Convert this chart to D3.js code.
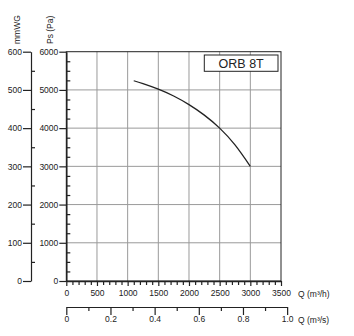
<!DOCTYPE html>
<html><head><meta charset="utf-8">
<script src="https://cdn.jsdelivr.net/npm/d3@7"></script>
<style>body{margin:0;background:#fff}svg{display:block}text{font-family:"Liberation Sans",Arial,sans-serif;fill:#222}</style>
</head><body>
<svg id="c" width="354" height="336"></svg>
<script>
const flowQ = [1100, 1250, 1500, 1750, 2000, 2250, 2500, 2750, 3000];
const pressurePa = [5240, 5165, 5020, 4840, 4615, 4340, 4000, 3560, 3000];
const qhTicks = [0, 500, 1000, 1500, 2000, 2500, 3000, 3500];
const qsTicks = [0, 0.2, 0.4, 0.6, 0.8, 1.0];
const paTicks = [0, 1000, 2000, 3000, 4000, 5000, 6000];
const mmTicks = [0, 100, 200, 300, 400, 500, 600];
const modelName = "ORB 8T";

const svg = d3.select("#c");
const L = 66.3, R = 281, T = 51.7, B = 281;
const x = d3.scaleLinear().domain([0, 3500]).range([L, R]);
const y = d3.scaleLinear().domain([0, 6000]).range([B, T]);
const ymm = d3.scaleLinear().domain([0, 600]).range([B, T]);
const xs = d3.scaleLinear().domain([0, 1]).range([L, x(3600)]);
const fs = "8.5px";

// grid
svg.append("g").selectAll("line").data(qhTicks.slice(1, -1)).join("line")
  .attr("x1", d => x(d)).attr("x2", d => x(d)).attr("y1", T).attr("y2", B)
  .attr("stroke", "#9a9a9a").attr("stroke-width", 1);
svg.append("g").selectAll("line").data(paTicks.slice(1, -1)).join("line")
  .attr("x1", L).attr("x2", R).attr("y1", d => y(d)).attr("y2", d => y(d))
  .attr("stroke", "#9a9a9a").attr("stroke-width", 1);
// frame
svg.append("rect").attr("x", L).attr("y", T).attr("width", R - L).attr("height", B - T)
  .attr("fill", "none").attr("stroke", "#222").attr("stroke-width", 1);

function style(g) {
  g.selectAll("path,line").attr("stroke", "#222").attr("stroke-width", 1.2);
  g.selectAll("text").attr("font-size", fs).attr("fill", "#222").attr("font-family", null);
}

// Ps axis
svg.append("g").attr("transform", `translate(${L},0)`)
  .call(d3.axisLeft(y).tickValues(paTicks).tickSize(7).tickSizeOuter(0).tickPadding(1).tickFormat(d3.format("d")))
  .call(style).call(g => g.select(".domain").attr("stroke-width", 1.5));
svg.append("g").attr("transform", `translate(${L},0)`)
  .call(d3.axisRight(y).tickValues(d3.range(250, 6000, 250).filter(v => v % 1000)).tickSize(4).tickFormat(""))
  .call(style).call(g => g.select(".domain").remove());

// mmWG axis
const mx = 31;
svg.append("g").attr("transform", `translate(${mx},0)`)
  .call(d3.axisLeft(ymm).tickValues(mmTicks).tickSize(8).tickSizeOuter(0).tickPadding(1).tickFormat(d3.format("d")))
  .call(style);
svg.append("g").attr("transform", `translate(${mx},0)`)
  .call(d3.axisRight(ymm).tickValues(d3.range(50, 600, 100)).tickSize(4).tickFormat(""))
  .call(style).call(g => g.select(".domain").remove());

// Q m3/h axis
svg.append("g").attr("transform", `translate(0,${B})`)
  .call(d3.axisBottom(x).tickValues(qhTicks).tickSize(5).tickSizeOuter(0).tickPadding(4).tickFormat(d3.format("d")))
  .call(style).call(g => g.select(".domain").attr("stroke-width", 1.5));
svg.append("g").attr("transform", `translate(0,${B})`)
  .call(d3.axisBottom(x).tickValues(d3.range(100, 3500, 100).filter(v => v % 500)).tickSize(4).tickFormat(""))
  .call(style).call(g => g.select(".domain").remove());

// Q m3/s axis
const sy = 307;
svg.append("g").attr("transform", `translate(0,${sy})`)
  .call(d3.axisBottom(xs).tickValues(qsTicks).tickSize(8).tickSizeOuter(0).tickPadding(1).tickFormat(d3.format(".1f")))
  .call(style)
  .call(g => g.selectAll(".tick text").filter(d => d === 0).text("0"));
svg.append("g").attr("transform", `translate(0,${sy})`)
  .call(d3.axisBottom(xs).tickValues(d3.range(0.1, 1, 0.2)).tickSize(4).tickFormat(""))
  .call(style).call(g => g.select(".domain").remove());

// unit labels
svg.append("text").attr("x", 298).attr("y", 296.5).attr("font-size", fs).text("Q (m³/h)");
svg.append("text").attr("x", 298).attr("y", 323).attr("font-size", fs).text("Q (m³/s)");
svg.append("text").attr("transform", "translate(20,44) rotate(-90)").attr("font-size", fs).text("mmWG");
svg.append("text").attr("transform", "translate(53,44) rotate(-90)").attr("font-size", fs).text("Ps (Pa)");

// curve
const line = d3.line().x((d, i) => x(flowQ[i])).y(d => y(d)).curve(d3.curveNatural);
svg.append("path").attr("d", line(pressurePa)).attr("fill", "none")
  .attr("stroke", "#222").attr("stroke-width", 1.3);

// model box
svg.append("rect").attr("x", 204.3).attr("y", 55).attr("width", 73.7).attr("height", 16.3)
  .attr("fill", "#fff").attr("stroke", "#222").attr("stroke-width", 1);
svg.append("text").attr("x", 241.2).attr("y", 67.5).attr("text-anchor", "middle")
  .attr("font-size", "12.5px").text(modelName);
</script>
</body></html>
